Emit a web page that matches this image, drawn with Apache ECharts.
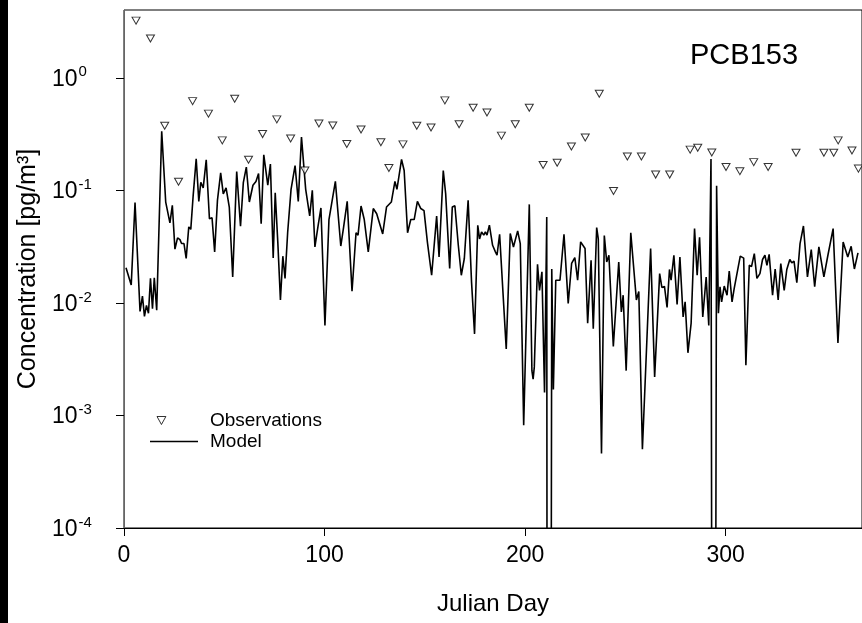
<!DOCTYPE html>
<html>
<head>
<meta charset="utf-8">
<script src="https://cdn.jsdelivr.net/npm/echarts@6/dist/echarts.min.js"></script>
<style>
html,body{margin:0;padding:0;background:#fff;}
#chart{width:862px;height:623px;}
</style>
</head>
<body>
<div id="chart"></div>
<script>
// ---- data ----
const obsDays = [6.0,13.2,20.3,27.2,34.2,42.1,49.0,55.2,62.1,69.1,76.2,83.1,90.2,97.2,104.1,111.1,118.2,128.1,132.1,139.1,146.0,153.1,160.0,167.1,174.1,181.0,188.2,195.1,202.1,209.0,216.0,223.1,230.0,237.0,244.1,251.0,258.0,265.1,272.1,282.3,286.1,293.1,300.2,307.1,314.0,321.2,335.1,349.0,353.9,356.1,363.0,366.2];
const obsValues = [3.22,2.23,0.375,0.119,0.62,0.48,0.278,0.65,0.187,0.316,0.427,0.289,0.15,0.393,0.377,0.258,0.347,0.267,0.158,0.256,0.375,0.362,0.63,0.386,0.542,0.492,0.306,0.386,0.542,0.168,0.176,0.245,0.295,0.72,0.0986,0.2,0.2,0.138,0.138,0.23,0.239,0.217,0.161,0.148,0.178,0.161,0.216,0.216,0.216,0.278,0.226,0.156];

const modelDays = [1,3.6,5.5,7.2,8.0,9.2,10.2,11.2,12.2,13.2,14.2,15.1,16.3,18.8,20.8,22.9,24.1,25.4,26.7,27.9,28.7,29.9,31.0,32.3,33.3,34.5,36.0,37.3,38.3,39.5,41.0,42.6,43.9,45.2,46.6,48.2,49.5,50.9,52.5,54.2,56.2,58.1,59.5,61.0,62.5,64.3,65.8,67.1,68.4,69.7,71.7,73.0,74.4,75.4,76.7,78.0,79.2,80.3,81.6,83.3,84.1,85.3,86.9,88.5,90.6,92.6,93.9,95.2,96.7,98.2,100.2,102.2,105.4,108.1,109.4,111.3,113.7,115.7,116.7,118.2,119.8,121.8,124.3,126.0,129.0,130.9,133.3,135.1,136.1,138.4,139.7,141.4,143.0,144.7,146.3,148.0,149.6,151.3,152.1,153.4,155.9,157.1,159.2,160.4,161.1,162.4,163.7,165.0,166.7,168.2,169.7,171.6,173.3,174.8,176.4,177.3,178.3,179.4,180.2,181.0,182.2,183.8,185.2,186.0,187.3,190.6,192.6,194.2,196.3,197.6,199.3,202.1,203.4,204.0,204.6,206.2,207.2,208.4,209.7,210.8,211.0,212.9,213.3,214.1,215.3,217.4,219.4,221.5,223.2,224.8,226.2,227.7,229.9,231.2,232.9,234.0,235.7,236.5,238.1,239.5,240.7,241.8,244.0,246.7,248.0,248.9,250.4,252.7,255.5,256.7,258.5,262.6,264.6,267.1,268.2,269.5,270.8,272.0,272.8,274.2,275.8,277.2,278.8,279.8,281.2,282.8,284.5,285.8,287.0,288.6,290.3,291.6,292.7,293.2,294.9,295.5,296.4,297.2,298.0,299.3,300.7,301.8,303.2,304.3,305.1,307.3,309.0,310.1,311.8,312.9,314.3,315.6,317.1,318.4,319.6,320.6,321.7,323.4,324.7,326.2,327.5,329.2,330.5,332.0,333.0,334.1,335.5,337.1,338.8,340.8,342.7,344.4,346.5,349.0,351.0,353.6,356.0,358.6,360.9,362.6,364.2,366.0];
const modelValues = [0.0205,0.0144,0.078,0.017,0.0084,0.0115,0.0076,0.0095,0.0081,0.0165,0.0089,0.0167,0.0086,0.334,0.0787,0.0513,0.0736,0.030,0.0378,0.0365,0.0337,0.0337,0.0248,0.0473,0.045,0.0903,0.191,0.0798,0.118,0.105,0.187,0.056,0.057,0.0284,0.0814,0.143,0.093,0.105,0.071,0.017,0.147,0.048,0.117,0.161,0.0787,0.111,0.12,0.141,0.0506,0.207,0.111,0.171,0.025,0.095,0.0345,0.0106,0.026,0.0165,0.042,0.102,0.099,0.166,0.0798,0.297,0.102,0.0593,0.1,0.0314,0.0473,0.0697,0.0063,0.055,0.12,0.032,0.0457,0.0798,0.0127,0.042,0.040,0.0725,0.055,0.0284,0.0689,0.062,0.041,0.071,0.0787,0.12,0.102,0.188,0.150,0.042,0.055,0.055,0.0798,0.0689,0.066,0.0345,0.0345,0.0176,0.059,0.0256,0.150,0.093,0.095,0.0202,0.071,0.073,0.0325,0.0176,0.0248,0.0814,0.0153,0.0053,0.0489,0.037,0.0427,0.040,0.0427,0.040,0.049,0.0325,0.0284,0.0265,0.0407,0.0039,0.0413,0.0314,0.0436,0.0336,0.00082,0.075,0.0025,0.0021,0.0027,0.022,0.0129,0.0189,0.0016,0.058,1e-6,1e-6,0.020,0.0017,0.0159,0.0159,0.0407,0.0099,0.0224,0.0253,0.0159,0.0348,0.0304,0.0066,0.0239,0.0059,0.0467,0.037,0.00046,0.0397,0.0231,0.0265,0.0041,0.0231,0.0083,0.0117,0.0025,0.0419,0.0106,0.0126,0.0005,0.0304,0.0022,0.0182,0.0137,0.014,0.0091,0.0198,0.0159,0.0265,0.0097,0.0256,0.0075,0.0102,0.0036,0.0066,0.0457,0.0176,0.0383,0.0075,0.017,0.0063,0.19,1e-6,1e-6,0.11,0.0081,0.0139,0.0102,0.0141,0.0117,0.0192,0.0102,0.0135,0.013,0.026,0.025,0.0028,0.0216,0.021,0.0274,0.0165,0.0182,0.0243,0.0265,0.0216,0.027,0.0117,0.020,0.0106,0.0223,0.0129,0.0198,0.0243,0.0227,0.0235,0.0151,0.0336,0.0482,0.017,0.0298,0.0139,0.0314,0.017,0.0265,0.0457,0.0044,0.0348,0.0256,0.0318,0.020,0.0278];

const xTicks = [0,100,200,300];
const yTicks = [1e-4,1e-3,1e-2,1e-1,1];
const chartTitle = 'PCB153';
const xName = 'Julian Day';
const yName = 'Concentration [pg/m\u00B3]';
const seriesNames = ['Observations','Model'];

// ---- chart ----
const FONT = '"Liberation Sans", Arial, sans-serif';
const chart = echarts.init(document.getElementById('chart'), null, {renderer:'canvas'});
const obsData = obsDays.map((d,i)=>[d, obsValues[i]]);
const modelData = modelDays.map((d,i)=>[d, modelValues[i]]);
const DOWN_TRI = 'path://M0,0 L10,0 L5,9 Z';

chart.setOption({
  animation:false,
  backgroundColor:'#ffffff',
  textStyle:{fontFamily:FONT},
  title:{text:chartTitle,left:685,top:36,textStyle:{fontFamily:FONT,fontSize:29,fontWeight:'normal',color:'#000'}},
  grid:{left:124,top:10,right:-3,bottom:95,show:true,borderColor:'#000',borderWidth:1,backgroundColor:'transparent'},
  legend:[
    {data:[{name:seriesNames[0],icon:DOWN_TRI,itemStyle:{color:'#fff',borderColor:'#000',borderWidth:1}}],
     left:151.5,top:406,itemWidth:9,itemHeight:8,
     textStyle:{fontFamily:FONT,fontSize:19,color:'#000',padding:[0,0,0,39]}},
    {data:[{name:seriesNames[1],icon:'rect',itemStyle:{color:'#000'}}],
     left:145,top:427,itemWidth:48,itemHeight:1.6,
     textStyle:{fontFamily:FONT,fontSize:19,color:'#000',padding:[0,0,0,7]}}
  ],
  xAxis:{type:'value',min:0,max:368,interval:100,
    name:xName,nameLocation:'middle',nameGap:64,nameTextStyle:{fontFamily:FONT,fontSize:24,color:'#000'},
    axisLine:{show:true,lineStyle:{color:'#000',width:1}},
    axisTick:{show:true,inside:false,length:8,lineStyle:{color:'#000'},customValues:xTicks},
    axisLabel:{show:true,margin:16,fontFamily:FONT,fontSize:23,color:'#000',customValues:xTicks},
    splitLine:{show:false}},
  yAxis:{type:'log',logBase:10,min:1e-4,max:4,
    name:yName,nameLocation:'middle',nameGap:81,nameTextStyle:{fontFamily:FONT,fontSize:25,color:'#000'},
    axisLine:{show:true,lineStyle:{color:'#666',width:1}},
    axisTick:{show:true,inside:false,length:8,lineStyle:{color:'#000'},customValues:yTicks},
    axisLabel:{show:true,margin:72,align:'left',customValues:yTicks,
      formatter:function(v){const e=Math.round(Math.log10(v));return '{b|10}{s|'+e+'}';},
      rich:{b:{fontFamily:FONT,fontSize:23,color:'#000',verticalAlign:'bottom'},
            s:{fontFamily:FONT,fontSize:15,color:'#000',verticalAlign:'top',padding:[0,0,11,1]}}},
    splitLine:{show:false}},
  series:[
    {name:seriesNames[0],type:'scatter',data:obsData,symbol:'triangle',symbolRotate:180,symbolSize:[8,7],
     itemStyle:{color:'#fff',borderColor:'#000',borderWidth:1},z:3},
    {name:seriesNames[1],type:'line',data:modelData,showSymbol:false,symbol:'none',clip:true,
     lineStyle:{color:'#000',width:1.6},itemStyle:{color:'#000'},z:2}
  ],
  graphic:[{type:'rect',left:0,top:0,shape:{width:8,height:623},style:{fill:'#000'},z:10}]
});
</script>
</body>
</html>
